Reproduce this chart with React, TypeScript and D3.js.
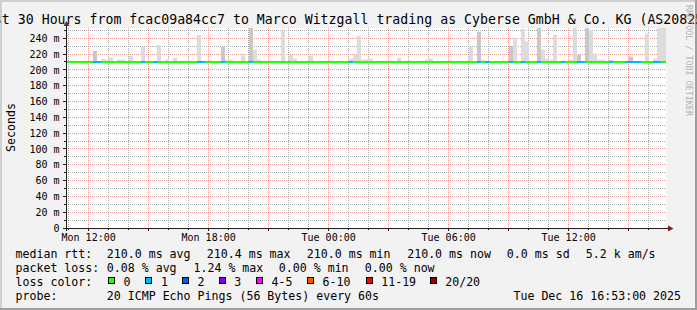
import React from "react";
import * as d3 from "d3";

const W = 697;
const H = 310;
const titleText =
  "Last 30 Hours from fcac09a84cc7 to Marco Witzgall trading as Cyberse GmbH & Co. KG (AS208258)";
const startTime = "Mon 10:53";
const endTime = "Tue 16:53";
const yMax = 253;
const medianRtt = 210.0;

// smoke bars (12-minute bins): bin start, highest ping (ms), dark shade flag
const smokeTimes = [
  "Mon 12:12", "Mon 12:36", "Mon 12:48", "Mon 13:00", "Mon 13:24", "Mon 13:36", "Mon 14:00",
  "Mon 14:36", "Mon 15:24", "Mon 15:48", "Mon 16:12", "Mon 17:24", "Mon 18:36", "Mon 18:48",
  "Mon 19:00", "Mon 19:36", "Mon 20:00", "Mon 20:12", "Mon 20:24", "Mon 21:36", "Mon 22:00",
  "Mon 22:12", "Mon 23:00", "Tue 01:00", "Tue 01:12", "Tue 01:24", "Tue 01:36", "Tue 01:48",
  "Tue 02:00", "Tue 03:24", "Tue 04:48", "Tue 05:00", "Tue 07:00", "Tue 07:24", "Tue 07:36",
  "Tue 09:00", "Tue 09:12", "Tue 09:36", "Tue 09:48", "Tue 10:24", "Tue 10:36", "Tue 10:48",
  "Tue 11:00", "Tue 11:12", "Tue 12:00", "Tue 12:12", "Tue 12:24", "Tue 12:48", "Tue 13:00",
  "Tue 13:12", "Tue 13:24", "Tue 13:36", "Tue 14:00", "Tue 15:00", "Tue 15:48", "Tue 16:12",
  "Tue 16:24", "Tue 16:36", "Tue 16:48",
];
const smokeTops = [
  224, 213.8, 213, 215.5, 213, 213, 218,
  229, 231.5, 213, 215.5, 244, 229.4, 213,
  213, 220.5, 253, 225.6, 213, 249.6, 219,
  214.2, 218, 214.2, 219.2, 243.3, 213, 213.5,
  214.2, 215.4, 213, 214.2, 229.4, 248.3, 213,
  230.6, 240.7, 252, 235.7, 253, 225.6, 214,
  213, 244.5, 213, 253, 219.2, 253, 250,
  220.5, 213, 213, 213, 216.7, 245.8, 214.2,
  253, 253, 253,
];
const smokeDark = [
  1, 0, 0, 0, 0, 0, 0,
  0, 0, 0, 0, 0, 1, 0,
  0, 0, 1, 0, 0, 0, 0,
  0, 0, 0, 0, 0, 0, 0,
  0, 0, 0, 0, 0, 1, 0,
  1, 0, 0, 0, 1, 0, 0,
  0, 0, 0, 0, 1, 1, 0,
  0, 0, 0, 0, 1, 0, 0,
  0, 0, 0,
];

// bins where 1 of 20 pings was lost
const lossTimes = [
  "Mon 12:12", "Mon 12:24", "Mon 14:36", "Mon 15:12", "Mon 17:24", "Mon 17:36", "Mon 18:36",
  "Mon 20:00", "Tue 01:00", "Tue 07:24", "Tue 07:48", "Tue 09:00", "Tue 09:36", "Tue 10:24",
  "Tue 11:36", "Tue 12:24", "Tue 12:36", "Tue 14:00", "Tue 14:48", "Tue 15:00", "Tue 15:12",
  "Tue 15:24", "Tue 16:12", "Tue 16:24",
];

const lossLabels = ["0", "1", "2", "3", "4-5", "6-10", "11-19", "20/20"];
const lossColors = ["#26ff00", "#00b8ff", "#0059ff", "#7e00ff", "#ff00ff", "#ff5500", "#ff0000", "#a10000"];

const rttLabel = "median rtt:";
const rttStats = ["210.0 ms avg", "210.4 ms max", "210.0 ms min", "210.0 ms now", "0.0 ms sd", "5.2 k am/s"];
const lossLabel = "packet loss:";
const lossStats = ["0.08 % avg", "1.24 % max", "0.00 % min", "0.00 % now"];
const probeLabel = "probe:";
const probeText = "20 ICMP Echo Pings (56 Bytes) every 60s";
const stampText = "Tue Dec 16 16:53:00 2025";
const yTitle = "Seconds";
const watermark = "RRDTOOL / TOBI OETIKER";

function parseT(s: string): Date {
  const [d, hm] = s.split(" ");
  const [h, m] = hm.split(":").map(Number);
  return new Date(2025, 11, d === "Mon" ? 15 : 16, h, m);
}

const MONO = "'DejaVu Sans Mono', monospace";

export default function App() {
  const X0 = 66, X1 = 666, Y0 = 228, Y1 = 28;
  const t0 = parseT(startTime);
  const t1 = parseT(endTime);
  const x = d3.scaleTime().domain([t0, t1]).range([X0, X1]);
  const y = d3.scaleLinear().domain([0, yMax]).range([Y0, Y1]);
  const binW = x(d3.timeMinute.offset(t0, 12)) - x(t0);

  const hours = d3.timeHour.range(d3.timeHour.ceil(t0), t1);
  const minorY = d3.range(10, yMax, 10);
  const fmt = d3.timeFormat("%a %H:%M");
  const gridC = "rgba(143,143,143,0.75)";
  const mgridC = "rgba(222,79,79,0.6)";
  const yMed = y(medianRtt);

  const rttX = [107.3, 207.3, 307.3, 407.7, 507.3, 586.3];
  const lossX = [107.3, 194, 279.3, 365.3];
  const boxX = [108.3, 145.7, 182.3, 219, 256.3, 307.3, 366, 430];
  const L1 = 257.8, L2 = 272, L3 = 286.1, L4 = 300.3;
  const titleCharW = 7.97;
  const titleLen = titleText.length * titleCharW;

  return (
    <svg width={W} height={H} style={{ position: "absolute", left: 0, top: 0 }} fontFamily={MONO}>
      <defs>
        <clipPath id="plot">
          <rect x={X0} y={Y1} width={X1 - X0} height={Y0 - Y1} />
        </clipPath>
      </defs>
      <rect x={0} y={0} width={W} height={H} fill="#f2f2f2" />
      <rect x={0} y={0} width={W} height={2} fill="#cfcfcf" />
      <rect x={0} y={0} width={2} height={H} fill="#cfcfcf" />
      <rect x={0} y={H - 2} width={W} height={2} fill="#9e9e9e" />
      <rect x={W - 2} y={0} width={2} height={H} fill="#9e9e9e" />
      <rect x={X0} y={Y1} width={X1 - X0} height={Y0 - Y1} fill="#ffffff" />

      {/* grid */}
      {minorY.map((v) => (
        <line key={"hy" + v} x1={X0} x2={X1} y1={Math.floor(y(v)) + 0.5} y2={Math.floor(y(v)) + 0.5}
          stroke={v % 20 === 0 ? mgridC : gridC} strokeDasharray="1,1" />
      ))}
      {hours.map((h) => {
        const xx = Math.floor(x(h)) + 0.5;
        const major = h.getHours() % 3 === 0;
        return (
          <line key={"vx" + h.getTime()} x1={xx} x2={xx} y1={Y1} y2={Y0}
            stroke={major ? mgridC : gridC} strokeDasharray="1,1" />
        );
      })}

      {/* smoke */}
      <g clipPath="url(#plot)">
        {smokeTimes.map((s, i) => {
          const xs = Math.ceil(x(parseT(s)));
          const top = y(smokeTops[i]);
          return (
            <rect key={"s" + i} x={xs} y={top} width={binW} height={yMed - top}
              fill={smokeDark[i] ? "#c8c8c8" : "#dcdcdc"} />
          );
        })}
        <rect x={X0} y={yMed - 1} width={X1 - X0} height={2} fill={lossColors[0]} />
        {lossTimes.map((s, i) => (
          <rect key={"l" + i} x={Math.ceil(x(parseT(s)))} y={yMed - 1} width={binW} height={2} fill={lossColors[1]} />
        ))}
      </g>

      {/* ticks */}
      {d3.range(0, yMax, 10).map((v) => (
        <line key={"ty" + v} x1={v % 20 === 0 ? 63 : 64} x2={X0} y1={Math.floor(y(v)) + 0.5} y2={Math.floor(y(v)) + 0.5}
          stroke="#1f1f1f" />
      ))}
      {hours.map((h) => {
        const xx = Math.floor(x(h)) + 0.5;
        const major = h.getHours() % 3 === 0;
        return <line key={"tx" + h.getTime()} x1={xx} x2={xx} y1={Y0} y2={Y0 + (major ? 3 : 2)} stroke="#1f1f1f" />;
      })}

      {/* axes */}
      <line x1={X0 + 0.5} x2={X0 + 0.5} y1={Y0 + 3} y2={24} stroke="#1f1f1f" />
      <line x1={63} x2={669} y1={Y0 + 0.5} y2={Y0 + 0.5} stroke="#1f1f1f" />
      <path d={`M${X0 - 2.5},${26} L${X0 + 0.5},${21} L${X0 + 3.5},${26} Z`} fill="#801f1f" />
      <path d={`M${668},${Y0 - 2.5} L${673.5},${Y0 + 0.5} L${668},${Y0 + 3.5} Z`} fill="#801f1f" />

      {/* y labels */}
      {d3.range(0, yMax, 20).map((v) => (
        <text key={"yl" + v} x={59.5} y={y(v) + 3.7} fontSize={10} textAnchor="end" fill="#000">
          {v === 0 ? "0" : `${v} m`}
        </text>
      ))}
      {/* x labels */}
      {hours.filter((h) => h.getHours() % 6 === 0).map((h) => (
        <text key={"xl" + h.getTime()} x={x(h) + 0.3} y={240.5} fontSize={10} textAnchor="middle" fill="#000">
          {fmt(h)}
        </text>
      ))}

      {/* titles */}
      <text x={W / 2 - titleLen / 2} y={24} fontSize={13.2} textLength={titleLen} lengthAdjust="spacing" fill="#000">
        {titleText}
      </text>
      <text transform={`translate(15,127.5) rotate(-90)`} fontSize={11.6} textAnchor="middle" fill="#000">{yTitle}</text>
      <text transform={`translate(686,5) rotate(90)`} fontSize={8.4} fill="#b4b4b4">{watermark}</text>

      {/* legend */}
      <g fontSize={11.6} fill="#000">
        <text x={15.5} y={L1}>{rttLabel}</text>
        {rttStats.map((s, i) => <text key={"r" + i} x={rttX[i] - 0.5} y={L1}>{s}</text>)}
        <text x={15.5} y={L2}>{lossLabel}</text>
        {lossStats.map((s, i) => <text key={"p" + i} x={lossX[i] - 0.5} y={L2}>{s}</text>)}
        <text x={15.5} y={L3}>loss color:</text>
        {lossLabels.map((s, i) => (
          <g key={"lc" + i}>
            <rect x={Math.floor(boxX[i]) + 0.5} y={277.5} width={6} height={6} fill={lossColors[i]} stroke="#000" />
            <text x={boxX[i] + 15.2} y={L3}>{s}</text>
          </g>
        ))}
        <text x={15.5} y={L4}>{probeLabel}</text>
        <text x={106.8} y={L4}>{probeText}</text>
        <text x={681} y={L4} textAnchor="end">{stampText}</text>
      </g>
    </svg>
  );
}
